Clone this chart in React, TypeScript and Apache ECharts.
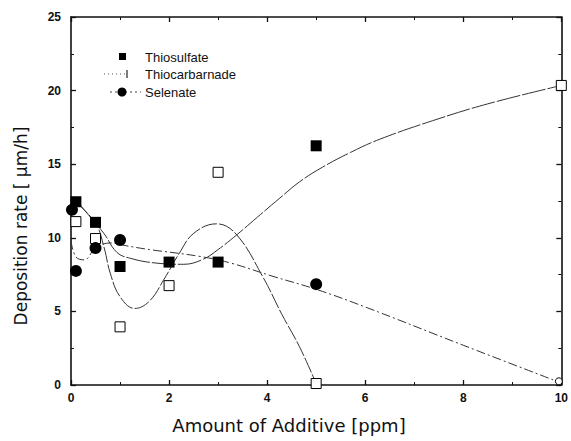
import React, { useEffect, useRef } from "react";
import * as echarts from "echarts";

// Measured points, [ppm, deposition rate]
const thiosulfate: [number, number][] = [
  [0.1, 12.45], [0.5, 11.05], [1, 8.05], [2, 8.35], [3, 8.35], [5, 16.25],
];
const thiocarbamideOpen: [number, number][] = [
  [0.1, 11.1], [0.5, 9.95], [1, 3.95], [2, 6.75], [3, 14.45], [5, 0.1], [10, 20.35],
];
const selenate: [number, number][] = [
  [0.02, 11.9], [0.1, 7.75], [0.5, 9.3], [1, 9.85], [5, 6.85],
];
const selenateOpen: [number, number][] = [[9.95, 0.25]];

// Fitted curves
const fitOpen: [number, number][] = [
  [0.1, 12.4], [0.5, 11.0], [0.67, 9.4], [0.8, 7.6], [1.0, 6.0], [1.3, 5.2],
  [1.6, 5.7], [1.9, 7.2], [2.2, 8.9], [2.5, 10.3], [2.97, 10.95], [3.38, 10.2],
  [3.92, 7.3], [4.3, 4.8], [4.66, 2.6], [5.0, 0.1],
];
const fitThiosulfate: [number, number][] = [
  [0.1, 12.6], [0.27, 11.9], [0.67, 10.3], [0.94, 9.0], [1.22, 8.6], [1.69, 8.3],
  [2.3, 8.2], [2.7, 8.55], [3.0, 9.2], [3.38, 10.2], [3.8, 11.4], [4.26, 12.7],
  [4.66, 13.8], [5.13, 14.8], [5.7, 15.8], [6.3, 16.7], [7.37, 17.95], [8.5, 19.1],
  [10, 20.35],
];
const fitSelenate: [number, number][] = [
  [0, 9.8], [0.1, 8.7], [0.27, 8.5], [0.5, 9.3], [0.8, 9.65], [1.14, 9.45],
  [1.6, 9.2], [2.6, 8.75], [3.24, 8.3], [4.1, 7.4], [5.0, 6.5], [6.0, 5.3],
  [8.0, 2.7], [9.95, 0.2],
];

const xTicks = { min: 0, max: 10, interval: 2 };
const yTicks = { min: 0, max: 25, interval: 5 };

const legendNames = ["Thiosulfate", "Thiocarbarnade", "Selenate"];

const FONT = "'Liberation Sans', Arial, Helvetica, sans-serif";
const TITLE_FONT = "'DejaVu Sans', Verdana, sans-serif";
const INK = "#111";

export default function App() {
  const ref = useRef<HTMLDivElement>(null);

  useEffect(() => {
    if (!ref.current) return;
    const chart = echarts.init(ref.current, undefined, { renderer: "svg" });

    const axisCommon = {
      axisLine: { show: true, onZero: false, lineStyle: { color: INK, width: 1.6 } },
      axisTick: { show: true, inside: true, length: 5, lineStyle: { color: INK, width: 1.3 } },
      minorTick: { show: true, splitNumber: 2, length: 3, lineStyle: { color: INK, width: 1 } },
      splitLine: { show: false },
    };
    const labelStyle = {
      color: INK,
      fontFamily: FONT,
      fontSize: 12,
      fontWeight: "bold" as const,
    };

    const fitLine = (data: [number, number][], type: any) => ({
      type: "line",
      data,
      smooth: 0.4,
      showSymbol: false,
      symbol: "none",
      silent: true,
      lineStyle: { color: "#333", width: 1, type },
      z: 2,
    });

    chart.setOption({
      animation: false,
      backgroundColor: "#fff",
      grid: { left: 71, top: 17, right: 9, bottom: 56, containLabel: false },
      xAxis: [
        {
          type: "value",
          ...xTicks,
          position: "bottom",
          ...axisCommon,
          axisLabel: { ...labelStyle, margin: 7 },
        },
        {
          type: "value",
          ...xTicks,
          position: "top",
          ...axisCommon,
          axisLabel: { show: false },
        },
      ],
      yAxis: [
        {
          type: "value",
          ...yTicks,
          position: "left",
          ...axisCommon,
          axisLabel: { ...labelStyle, margin: 10 },
        },
        {
          type: "value",
          ...yTicks,
          position: "right",
          ...axisCommon,
          axisLabel: { show: false },
        },
      ],
      series: [
        fitLine(fitOpen, [16, 2]),
        fitLine(fitThiosulfate, [24, 2]),
        fitLine(fitSelenate, [9, 3, 2, 3]),
        {
          name: legendNames[0],
          type: "scatter",
          data: thiosulfate,
          symbol: "rect",
          symbolSize: 11,
          itemStyle: { color: "#000", opacity: 1 },
          z: 4,
        },
        {
          name: "open",
          type: "scatter",
          data: thiocarbamideOpen,
          symbol: "rect",
          symbolSize: 10,
          itemStyle: { color: "#fff", borderColor: "#000", borderWidth: 1, opacity: 1 },
          z: 4,
        },
        {
          name: legendNames[2],
          type: "scatter",
          data: selenate,
          symbol: "circle",
          symbolSize: 12,
          itemStyle: { color: "#000", opacity: 1 },
          z: 4,
        },
        {
          name: "selenateEnd",
          type: "scatter",
          data: selenateOpen,
          symbol: "circle",
          symbolSize: 7,
          itemStyle: { color: "#fff", borderColor: "#000", borderWidth: 1, opacity: 1 },
          z: 4,
        },
      ],
      graphic: [
        // legend
        { type: "rect", shape: { x: 119, y: 53, width: 7, height: 7 }, style: { fill: "#000" } },
        {
          type: "text", x: 145, y: 57,
          style: { text: legendNames[0], font: `13px ${FONT}`, fill: INK, verticalAlign: "middle" },
        },
        {
          type: "line", shape: { x1: 104, y1: 74, x2: 128, y2: 74 },
          style: { stroke: "#555", lineWidth: 1, lineDash: [1, 3] },
        },
        {
          type: "line", shape: { x1: 127, y1: 70, x2: 127, y2: 78 },
          style: { stroke: "#222", lineWidth: 1.2 },
        },
        {
          type: "text", x: 145, y: 74,
          style: { text: legendNames[1], font: `13px ${FONT}`, fill: INK, verticalAlign: "middle" },
        },
        {
          type: "line", shape: { x1: 110, y1: 92, x2: 141, y2: 92 },
          style: { stroke: "#444", lineWidth: 1, lineDash: [2, 3] },
        },
        { type: "circle", shape: { cx: 122, cy: 92, r: 4.5 }, style: { fill: "#000" } },
        {
          type: "text", x: 145, y: 92,
          style: { text: legendNames[2], font: `13px ${FONT}`, fill: INK, verticalAlign: "middle" },
        },
        // axis titles
        {
          type: "text", x: 289, y: 425,
          style: {
            text: "Amount of Additive [ppm]", font: `18px ${TITLE_FONT}`, fill: INK,
            align: "center", verticalAlign: "middle",
          },
        },
        {
          type: "text", x: 21, y: 226, rotation: Math.PI / 2,
          style: {
            text: "Deposition rate [ μm/h]", font: `17px ${TITLE_FONT}`, fill: INK,
            align: "center", verticalAlign: "middle",
          },
        },
      ],
    });

    return () => chart.dispose();
  }, []);

  return <div ref={ref} style={{ width: 571, height: 441, position: "absolute", left: 0, top: 0 }} />;
}
